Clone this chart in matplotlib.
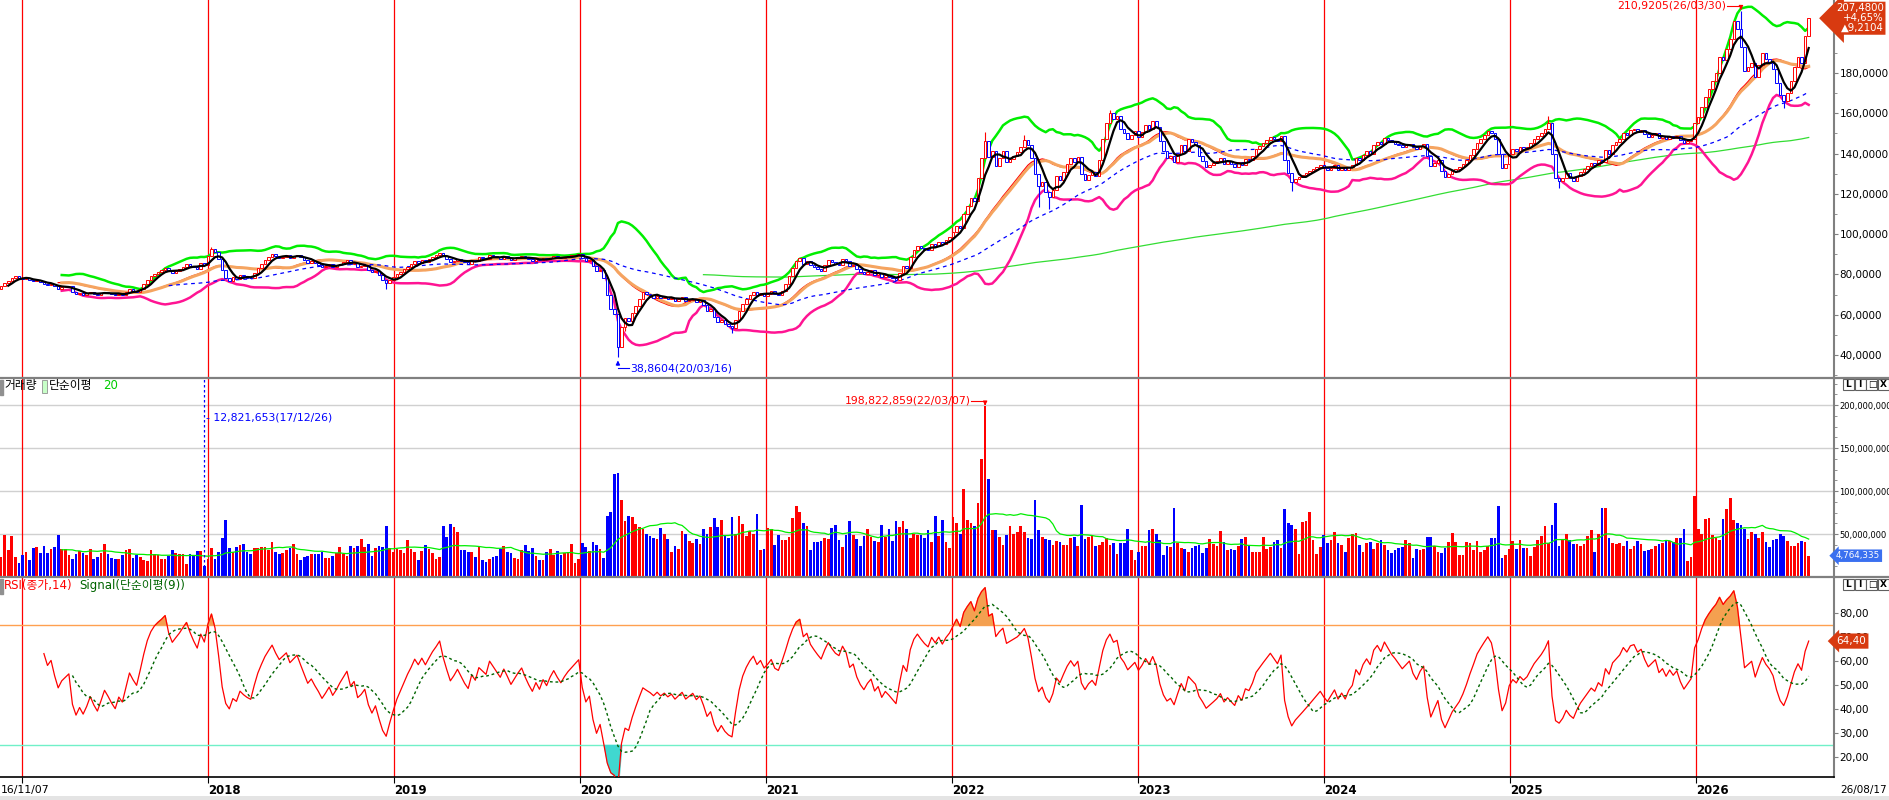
import numpy as np
import pandas as pd
import matplotlib
matplotlib.use("Agg")
import matplotlib.pyplot as plt
from matplotlib.patches import Rectangle
from matplotlib.lines import Line2D
from matplotlib.ticker import FuncFormatter, FixedLocator, MultipleLocator

plt.rcParams["font.family"] = ["DejaVu Sans", "Noto Sans CJK KR"]

W, H = 1890, 800

# ── data: weekly bars from 2016-11-07 ──
start_date = "2016-11-07"
first_open = 72.0
closes = [
    72.5, 73.0, 74.2, 75.5, 76.8, 78.0, 79.2, 78.4, 77.6, 78.1,   # 0
    77.2, 76.5, 77.0, 76.1, 75.4, 74.6, 75.1, 74.0, 73.0, 73.6,   # 10
    73.9, 74.2, 71.5, 70.2, 70.8, 70.0, 70.6, 71.4, 70.5, 69.8,   # 20
    70.6, 71.5, 70.9, 70.2, 69.6, 70.5, 70.0, 71.2, 72.6, 72.0,   # 30
    71.5, 73.0, 75.0, 77.2, 79.0, 80.3, 81.2, 82.0, 83.0, 81.6,   # 40
    80.8, 81.7, 82.6, 83.8, 85.0, 84.2, 83.5, 82.9, 85.5, 84.8,   # 50
    89.0, 92.5, 91.0, 87.5, 82.0, 78.0, 76.5, 78.5, 77.8, 79.8,   # 60
    79.0, 78.4, 78.0, 80.5, 83.0, 85.0, 87.0, 88.6, 90.2, 89.0,   # 70
    88.0, 88.8, 89.6, 88.2, 89.0, 89.8, 88.5, 87.2, 85.8, 86.5,   # 80
    85.5, 84.6, 83.5, 84.2, 85.0, 83.8, 84.5, 85.4, 86.2, 87.0,   # 90
    85.2, 85.8, 83.6, 84.0, 84.6, 82.4, 81.0, 81.8, 79.5, 77.0,   # 100
    75.5, 77.0, 78.5, 80.0, 81.2, 82.5, 83.8, 85.0, 86.5, 85.8,   # 110
    87.0, 86.2, 87.4, 88.6, 89.6, 90.8, 89.0, 87.5, 86.0, 86.8,   # 120
    87.8, 86.9, 86.0, 85.3, 87.2, 86.5, 88.4, 88.0, 87.6, 89.6,   # 130
    89.0, 88.4, 87.8, 88.9, 88.1, 87.2, 87.9, 88.6, 89.2, 88.3,   # 140
    87.5, 86.8, 87.7, 87.0, 88.0, 87.4, 88.3, 89.0, 88.4, 87.9,   # 150
    88.5, 89.0, 89.4, 89.8, 90.2, 88.0, 86.5, 87.0, 84.0, 81.5,   # 160
    82.3, 78.0, 70.0, 63.0, 60.5, 44.0, 54.0, 58.5, 57.0, 61.0,   # 170
    64.5, 68.0, 71.5, 70.5, 69.6, 68.4, 69.5, 68.2, 69.0, 67.8,   # 180
    68.5, 67.0, 67.8, 68.6, 66.8, 67.4, 68.0, 66.5, 67.2, 65.0,   # 190
    62.0, 62.8, 59.0, 56.5, 57.5, 55.5, 54.2, 53.5, 57.5, 62.0,   # 200
    65.5, 68.0, 70.0, 71.5, 69.8, 71.0, 69.5, 70.5, 71.8, 70.2,   # 210
    69.8, 72.0, 75.0, 79.0, 83.0, 86.5, 88.0, 85.0, 86.5, 84.5,   # 220
    83.5, 82.6, 81.8, 84.5, 87.0, 86.0, 85.2, 84.8, 87.5, 86.5,   # 230
    84.0, 84.8, 82.5, 81.0, 80.0, 81.2, 82.0, 79.8, 80.6, 78.5,   # 240
    79.5, 78.8, 78.0, 77.2, 80.5, 84.0, 83.0, 88.5, 92.0, 94.0,   # 250
    93.2, 92.5, 92.0, 95.0, 94.2, 96.0, 95.0, 97.0, 98.5, 101.0,  # 260
    104.0, 103.0, 110.0, 114.0, 118.0, 116.5, 128.0, 138.0, 146.0, 138.5,  # 270
    141.0, 134.0, 138.0, 141.0, 136.0, 137.5, 139.0, 140.5, 143.0, 146.5,  # 280
    144.0, 138.0, 130.0, 124.0, 126.0, 121.0, 118.5, 122.0, 129.0, 127.0,  # 290
    131.0, 135.0, 138.0, 136.0, 138.5, 130.0, 127.0, 129.5, 131.0, 129.0,  # 300
    137.0, 147.0, 155.0, 160.0, 157.0, 158.5, 152.0, 150.0, 147.0, 149.0,  # 310
    151.0, 148.0, 150.5, 154.0, 152.0, 156.0, 153.0, 146.0, 141.0, 138.0,  # 320
    139.0, 136.0, 140.0, 144.0, 141.0, 147.0, 145.5, 144.0, 139.0, 136.5,  # 330
    133.5, 134.5, 135.5, 136.5, 138.0, 135.0, 136.2, 134.8, 133.5, 136.0,  # 340
    134.5, 137.5, 137.0, 139.0, 142.0, 143.5, 145.0, 146.5, 148.0, 147.0,  # 350
    146.0, 148.5, 137.0, 130.5, 126.0, 127.5, 128.5, 129.5, 130.5, 131.5,  # 360
    132.5, 133.5, 134.5, 133.0, 131.8, 133.0, 134.2, 132.0, 133.2, 131.8,  # 370
    133.5, 134.5, 138.0, 137.0, 139.5, 141.0, 140.0, 144.0, 145.5, 144.5,  # 380
    147.5, 146.5, 145.5, 144.8, 144.0, 143.2, 144.0, 144.8, 143.0, 142.0,  # 390
    143.5, 144.5, 139.0, 134.0, 135.5, 137.0, 131.5, 128.5, 130.0, 131.5,  # 400
    132.5, 133.5, 135.0, 137.0, 139.5, 142.0, 145.0, 147.0, 149.0, 151.0,  # 410
    150.0, 147.0, 140.0, 133.0, 135.0, 140.0, 142.0, 141.0, 143.0, 142.0,  # 420
    143.0, 145.0, 147.0, 148.5, 150.0, 152.0, 155.0, 140.0, 128.0, 126.5,  # 430
    128.0, 130.5, 128.0, 126.5, 129.0, 131.0, 132.5, 134.0, 135.5, 134.5,  # 440
    137.0, 136.0, 141.5, 140.0, 144.0, 145.5, 147.0, 150.0, 149.0, 151.5,  # 450
    152.0, 150.5, 151.5, 149.5, 148.0, 149.0, 150.0, 147.5, 148.5, 147.0,  # 460
    148.5, 147.5, 148.5, 146.5, 145.0, 146.0, 147.0, 155.0, 158.0, 163.0,  # 470
    168.0, 172.0, 176.0, 180.0, 188.0, 186.5, 192.0, 197.0, 206.0, 202.0,  # 480
    193.0, 181.0, 183.0, 185.0, 178.0, 184.0, 190.0, 187.0, 185.0, 182.0,  # 490
    175.0, 169.0, 166.0, 170.0, 176.0, 183.0, 188.0, 185.0, 198.2696, 207.48,  # 500
]
# weekly volume, millions
volumes = [
    30.0, 27.0,
    23.6, 48.8, 31.4, 47.7, 22.9, 16.3, 25.2, 29.1, 19.4, 33.8,
    35.3, 28.3, 36.0, 28.3, 32.5, 35.3, 48.8, 32.5, 32.5, 25.6,
    20.9, 26.7, 30.2, 28.3, 25.6, 32.5, 20.9, 23.2, 28.3, 38.4,
    26.7, 22.5, 20.9, 20.9, 25.6, 31.4, 32.5, 22.5, 25.6, 22.9,
    19.8, 18.6, 31.4, 26.7, 25.6, 20.9, 20.9, 24.4, 31.4, 27.5,
    26.7, 26.4, 15.1, 26.7, 24.4, 30.2, 30.2, 12.821653, 20.9, 33.8,
    20.5, 29.1, 45.0, 66.3, 33.8, 29.1, 34.9, 37.2, 38.4, 29.1,
    26.7, 33.8, 33.8, 34.9, 34.9, 31.4, 40.7, 29.1, 26.7, 27.9,
    31.4, 33.8, 38.4, 26.7, 19.8, 23.2, 24.4, 26.7, 26.7, 26.7,
    29.1, 22.1, 22.1, 24.4, 27.9, 34.9, 26.7, 24.4, 36.0, 33.8,
    36.0, 44.2, 34.9, 38.4, 24.4, 33.8, 36.0, 34.9, 59.3, 33.8,
    29.1, 32.5, 31.4, 27.9, 43.1, 32.5, 29.1, 19.8, 30.2, 37.2,
    32.5, 27.9, 20.9, 23.2, 59.3, 46.5, 61.6, 58.1, 52.3, 31.4,
    31.4, 29.1, 29.1, 23.2, 34.9, 19.8, 17.4, 20.9, 23.2, 24.4,
    32.5, 36.0, 29.1, 27.9, 22.1, 20.9, 31.4, 37.2, 30.2, 33.8,
    24.4, 19.8, 19.8, 29.1, 32.5, 25.6, 30.2, 25.6, 27.9, 29.1,
    38.4, 16.3, 20.9, 39.5, 34.9, 30.2, 40.7, 37.2, 32.5, 22.1,
    71.3, 75.9, 119.8, 121.0,
    89.5, 64.6, 71.3, 69.4, 61.2, 58.0,
    55.8, 50.0, 48.1, 45.4, 44.2, 57.0, 50.0, 44.2, 28.9, 35.5,
    32.0, 53.5, 50.0, 41.8, 39.5, 44.2, 38.7, 55.8, 50.0, 58.1,
    68.6, 58.1, 66.3, 47.7, 45.4, 69.8, 50.0, 71.3, 61.2, 47.7,
    53.5, 50.0, 73.6, 31.4, 32.5, 56.9, 55.8, 37.2, 48.8, 43.0,
    43.0, 46.5, 68.6, 82.6, 75.6, 62.8, 59.3, 31.4, 40.7, 40.7,
    41.8, 45.3, 44.2, 56.9, 60.5, 43.0, 34.9, 48.8, 65.1, 48.8,
    44.2, 36.0, 47.7, 55.8, 46.5, 41.8, 40.7, 60.5, 46.5, 55.8,
    41.8, 65.1, 58.1, 65.1, 55.8, 45.3, 50.0, 48.8, 48.8, 45.3,
    54.6, 40.7, 71.3, 47.7, 66.3, 40.7, 33.7, 69.8, 62.8, 50.0,
    102.3, 66.3, 62.8, 59.3, 85.7, 137.0, 198.822859, 114.0, 54.6, 54.6,
    46.5, 37.2, 48.8, 59.3, 50.0, 52.3, 59.3, 52.3, 45.3, 44.2,
    89.5, 54.6, 46.5, 44.2, 43.0, 37.2, 41.8, 40.7, 37.2, 37.2,
    45.3, 46.5, 36.0, 83.7, 44.2, 46.5, 48.8, 36.0, 37.2, 40.7,
    45.3, 37.2, 39.5, 26.7, 39.5, 39.5, 55.8, 31.4, 19.8, 29.1,
    36.0, 36.0, 54.6, 55.8, 50.0, 43.0, 25.6, 36.0, 34.9, 80.2,
    39.5, 33.7, 32.5, 29.1, 33.7, 36.0, 37.2, 27.9, 33.7, 44.2,
    38.4, 36.0, 53.5, 40.7, 31.4, 32.5, 31.4, 36.0, 44.2, 46.5,
    36.0, 29.1, 29.1, 29.1,
    46.5, 32.5, 34.9, 40.7, 43.0, 33.8, 79.1, 62.8, 60.5, 55.8,
    26.7, 64.0, 65.1, 75.6, 43.0, 26.7, 34.9, 48.8, 39.5, 43.0,
    52.3, 39.5, 37.2, 29.1, 45.3, 49.9, 51.1, 37.2, 29.1, 39.5,
    40.7, 32.5, 39.5, 43.0, 37.2, 31.4, 27.9, 31.4, 33.8, 34.9,
    43.0, 39.5, 22.1, 32.5, 31.4, 32.5, 46.5, 46.5, 36.0, 29.1,
    27.9, 33.8, 40.7, 51.1, 40.7, 25.6, 25.6, 40.7, 39.5, 31.4,
    41.9, 29.1, 31.4, 36.0, 45.3, 45.3, 82.6, 22.1, 25.6, 32.5,
    41.9, 32.5, 43.0, 33.8, 33.8, 24.4, 34.9, 43.0, 47.7, 59.3,
    39.5, 60.5, 85.7, 36.0, 43.0, 49.9, 42.6, 38.4, 38.4, 36.0,
    38.4, 47.7, 54.6, 29.1, 49.9, 80.2, 80.2, 45.3, 39.5, 38.4,
    39.5, 36.0, 41.9, 32.5, 36.0, 41.9, 38.4, 30.2, 31.4, 32.5,
    36.0, 38.4, 39.5, 43.0, 41.9, 40.7, 45.3, 45.3, 55.8, 18.6,
    23.2, 94.2, 55.8, 49.9, 67.4, 68.6, 48.8, 45.3, 43.0, 67.4,
    79.1, 91.9, 66.3, 62.8, 60.5, 55.8, 44.2, 52.3, 49.9, 45.3,
    52.3, 40.7, 34.9, 43.0, 44.2, 49.9, 47.7, 41.9, 36.0, 36.0,
    39.5, 41.9, 40.7, 24.764335,
]
# wick extremes for the weeks where they stand out
wick_high = {61: 93.8, 278: 150.5, 289: 149.0, 313: 161.5, 436: 158.5, 490: 210.9205}
wick_low = {110: 73.0, 175: 38.8604, 177: 52.0, 207: 51.0, 293: 113.5,
            296: 112.5, 364: 121.5, 439: 123.0, 502: 162.5}
years = list(range(2017, 2027))
hi_label = "210,9205(26/03/30)"
lo_label = "38,8604(20/03/16)"
vmax_label = "198,822,859(22/03/07)"
vmin_label = "- 12,821,653(17/12/26)"
price_box = "207,4800\n+4,65%\n▲9,2104"
vol_box = "4,764,335"
rsi_box = "64,40"
first_date, last_date = "16/11/07", "26/08/17"

# ── indicators ──
c = pd.Series(closes)
o = c.shift(1).fillna(first_open)
x = np.arange(len(c))
up = (c >= o).values
ma5 = c.rolling(5).mean()
ma20 = c.rolling(20).mean()
ma19 = c.rolling(19).mean()
ma50 = c.rolling(50).mean()
ma200 = c.rolling(200).mean()
sd20 = c.rolling(20).std(ddof=0)
bb_up, bb_dn = ma20 + 2 * sd20, ma20 - 2 * sd20
vol = pd.Series(volumes)
vma20 = vol.rolling(20).mean()
d = c.diff()
g = d.clip(lower=0).ewm(alpha=1 / 14, adjust=False, min_periods=14).mean()
l = (-d.clip(upper=0)).ewm(alpha=1 / 14, adjust=False, min_periods=14).mean()
rsi = 100 * g / (g + l)
sig = rsi.rolling(9).mean()

t0 = pd.Timestamp(start_date)
year_pos = [(pd.Timestamp(f"{y}-01-01") - t0).days / 7 for y in years]

RED, BLUE = "#ff0000", "#0000ff"
col = np.where(up, RED, BLUE)


def frac(x0, y0, x1, y1):
    return [x0 / W, 1 - y1 / H, (x1 - x0) / W, (y1 - y0) / H]


fig = plt.figure(figsize=(W / 100, H / 100), dpi=100)
ax_p = fig.add_axes(frac(0, 0, 1834, 378))
ax_v = fig.add_axes(frac(0, 378, 1834, 577))
ax_r = fig.add_axes(frac(0, 577, 1834, 777))

XL = (1.683, 516.1)
for ax in (ax_p, ax_v, ax_r):
    ax.set_xlim(*XL)
    for s in ("top", "left", "bottom"):
        ax.spines[s].set_visible(False)
    ax.spines["right"].set_color("#808080")
    ax.spines["right"].set_linewidth(1.5)
    ax.yaxis.tick_right()
    ax.tick_params(axis="y", which="major", direction="out", length=3, color="#808080",
                   labelsize=7.5, pad=1)
    ax.tick_params(axis="y", which="minor", direction="out", length=2.5, color="#808080")
    for yp in year_pos:
        ax.axvline(yp, color=RED, lw=0.9, zorder=1)

ax_p.set_xticks([])
ax_v.set_xticks([])

# ── price panel ──
ax_p.set_ylim(28.59, 216.18)
ax_p.plot(x, ma200, color="#33dd33", lw=0.9, zorder=2)
ax_p.plot(x, bb_up, color="#00ee00", lw=1.8, zorder=2)
ax_p.plot(x, bb_dn, color="#ff1493", lw=1.8, zorder=2)
ax_p.plot(x, ma19, color=RED, lw=0.9, zorder=2.4)
ax_p.plot(x, ma20, color="#f5a460", lw=2.2, zorder=2.5)
ax_p.plot(x, ma50, color=BLUE, lw=0.9, ls=(0, (3, 3)), zorder=2.5)

body = np.maximum(np.abs(c - o).values, 0.25)
bottom = np.minimum(c, o).values
ax_p.bar(x, body, bottom=bottom, width=0.72, facecolor="white", edgecolor=col,
         linewidth=0.7, zorder=3)
for i, hv in wick_high.items():
    ax_p.vlines(i, max(c[i], o[i]), hv, color=col[i], lw=0.8, zorder=3)
for i, lv in wick_low.items():
    ax_p.vlines(i, lv, min(c[i], o[i]), color=col[i], lw=0.8, zorder=3)
ax_p.plot(x, ma5, color="black", lw=1.6, zorder=4)

# 200 sits under the price box in the reference, so only 40..180 are labelled
ax_p.yaxis.set_major_locator(FixedLocator(list(range(40, 200, 20))))
ax_p.yaxis.set_minor_locator(MultipleLocator(10))
ax_p.yaxis.set_major_formatter(FuncFormatter(lambda v, _: f"{v:.4f}".replace(".", ",")))

# max / min annotations
i_hi = max(wick_high, key=wick_high.get)
i_lo = min(wick_low, key=wick_low.get)
y_top = 213.3
ax_p.plot([i_hi - 3.9, i_hi], [y_top, y_top], color=RED, lw=0.8)
ax_p.annotate("", xy=(i_hi, wick_high[i_hi] + 0.3), xytext=(i_hi, y_top),
              arrowprops=dict(arrowstyle="-|>", color=RED, lw=0.8, mutation_scale=6))
ax_p.text(i_hi - 4.0, y_top, hi_label, color=RED, ha="right", va="center", fontsize=7.8)
y_bot = 33.55
ax_p.plot([i_lo, i_lo + 3.2], [y_bot, y_bot], color=BLUE, lw=0.8)
ax_p.annotate("", xy=(i_lo, wick_low[i_lo] - 0.2), xytext=(i_lo, y_bot),
              arrowprops=dict(arrowstyle="-|>", color=BLUE, lw=0.8, mutation_scale=6))
ax_p.text(i_lo + 3.4, y_bot, lo_label, color=BLUE, ha="left", va="center", fontsize=7.8)

ax_p.annotate(price_box, xy=(1.0, c.iloc[-1]), xycoords=("axes fraction", "data"),
              xytext=(1.5, -0.5), textcoords="offset points", ha="left", va="center",
              multialignment="right", fontsize=7.3, color="white", linespacing=1.0,
              bbox=dict(boxstyle="larrow,pad=0.15", fc="#d83a10", ec="none"),
              annotation_clip=False, zorder=10)

# ── volume panel ──
ax_v.set_ylim(0, 231.4)
for gv in (50, 100, 150, 200):
    ax_v.axhline(gv, color="#d0d0d0", lw=1, zorder=0.5)
ax_v.bar(x, vol, width=0.75, color=col, zorder=2)
ax_v.plot(x, vma20, color="#00ee00", lw=0.9, zorder=3)
ax_v.yaxis.set_major_locator(FixedLocator([50, 100, 150, 200]))
ax_v.yaxis.set_minor_locator(MultipleLocator(12.5))
ax_v.yaxis.set_major_formatter(FuncFormatter(lambda v, _: f"{int(round(v * 1e6)):,}"))
ax_v.tick_params(axis="y", which="major", labelsize=6)

i_vmax = int(vol.idxmax())
i_vmin = int(vol.idxmin())
ax_v.axvline(i_vmin, color=BLUE, lw=0.9, ls=(0, (2, 2)), zorder=3)
ax_v.text(i_vmin + 0.6, 184.9, vmin_label, color=BLUE, ha="left", va="center", fontsize=7.8)
y_va = 205.0
ax_v.plot([i_vmax - 3.9, i_vmax], [y_va, y_va], color=RED, lw=0.8)
ax_v.annotate("", xy=(i_vmax, vol[i_vmax] + 0.5), xytext=(i_vmax, y_va),
              arrowprops=dict(arrowstyle="-|>", color=RED, lw=0.8, mutation_scale=6))
ax_v.text(i_vmax - 4.0, y_va, vmax_label, color=RED, ha="right", va="center", fontsize=7.8)

ax_v.annotate(vol_box, xy=(1.0, vol.iloc[-1]), xycoords=("axes fraction", "data"),
              xytext=(1.5, 0), textcoords="offset points", ha="left", va="center",
              fontsize=6.3, color="white",
              bbox=dict(boxstyle="larrow,pad=0.2", fc="#3a70f0", ec="none"),
              annotation_clip=False, zorder=10)

ax_v.add_patch(Rectangle((0, 0.915), 3 / 1834, 0.075, transform=ax_v.transAxes,
                         color="#909090", clip_on=False))
ax_v.text(4 / 1834, 0.961, "거래량", transform=ax_v.transAxes, fontsize=8.5,
          va="center", ha="left")
ax_v.add_patch(Rectangle((42 / 1834, 0.925), 5 / 1834, 0.065, transform=ax_v.transAxes,
                         fc="#c8ffc8", ec="#909090", lw=0.6, clip_on=False))
ax_v.text(49 / 1834, 0.961, "단순이평", transform=ax_v.transAxes, fontsize=8.5,
          va="center", ha="left")
ax_v.text(103 / 1834, 0.961, "20", transform=ax_v.transAxes, fontsize=8.5,
          va="center", ha="left", color="#00cc00")

# ── RSI panel ──
ax_r.set_ylim(11.67, 95.0)
ax_r.axhline(75, color="#ffa050", lw=1, zorder=1)
ax_r.axhline(25, color="#70f0c8", lw=1, zorder=1)
ax_r.fill_between(x, rsi, 75, where=rsi > 75, interpolate=True, color="#f4a050", zorder=2)
ax_r.fill_between(x, rsi, 25, where=rsi < 25, interpolate=True, color="#40d8d0", zorder=2)
ax_r.plot(x, rsi, color=RED, lw=0.9, zorder=3)
ax_r.plot(x, sig, color="#006400", lw=1.0, ls=(0, (2, 2)), zorder=3)
# 90 sits under the panel buttons in the reference
ax_r.yaxis.set_major_locator(FixedLocator(list(range(20, 90, 10))))
ax_r.yaxis.set_major_formatter(FuncFormatter(lambda v, _: f"{v:.2f}".replace(".", ",")))
ax_r.spines["bottom"].set_visible(True)
ax_r.spines["bottom"].set_color("black")
ax_r.spines["bottom"].set_linewidth(1.2)
ax_r.set_xticks(year_pos)
ax_r.set_xticklabels([""] + [str(y) for y in years[1:]], fontsize=8.5,
                     fontweight="bold", ha="left")
ax_r.tick_params(axis="x", direction="out", length=4, pad=1)

ax_r.annotate(rsi_box, xy=(1.0, rsi.iloc[-1]), xycoords=("axes fraction", "data"),
              xytext=(1.5, 0), textcoords="offset points", ha="left", va="center",
              fontsize=7.5, color="white",
              bbox=dict(boxstyle="larrow,pad=0.25", fc="#d83a10", ec="none"),
              annotation_clip=False, zorder=10)

ax_r.add_patch(Rectangle((0, 0.915), 3 / 1834, 0.075, transform=ax_r.transAxes,
                         color="#909090", clip_on=False))
ax_r.text(4 / 1834, 0.957, "RSI(종가,14)", transform=ax_r.transAxes, fontsize=8.5,
          va="center", ha="left", color=RED)
ax_r.text(79 / 1834, 0.957, "Signal(단순이평(9))", transform=ax_r.transAxes, fontsize=8.5,
          va="center", ha="left", color="#006400")

# ── frame pieces ──
for ysep in (378, 577):
    fig.add_artist(Line2D([0, 1], [1 - ysep / H] * 2, transform=fig.transFigure,
                          color="#808080", lw=1.6))
for ytop in (379, 579):
    for k, sym in enumerate(["L", "I", "□", "X"]):
        x0 = 1843 + k * 11.7
        fig.add_artist(Rectangle((x0 / W, 1 - (ytop + 11) / H), 11 / W, 11 / H,
                                 transform=fig.transFigure, fc="white", ec="#606060", lw=0.8))
        fig.text((x0 + 5.5) / W, 1 - (ytop + 5.5) / H, sym, ha="center", va="center",
                 fontsize=6.5, fontweight="bold")
fig.add_artist(Rectangle((0, 0), 1, 4 / H, transform=fig.transFigure, fc="#e4e4e4", ec="none"))
fig.text(1 / W, 1 - 790 / H, first_date, ha="left", va="center", fontsize=7.8)
fig.text(1840 / W, 1 - 790 / H, last_date, ha="left", va="center", fontsize=7.5)

fig.savefig("out.png", dpi=100)
